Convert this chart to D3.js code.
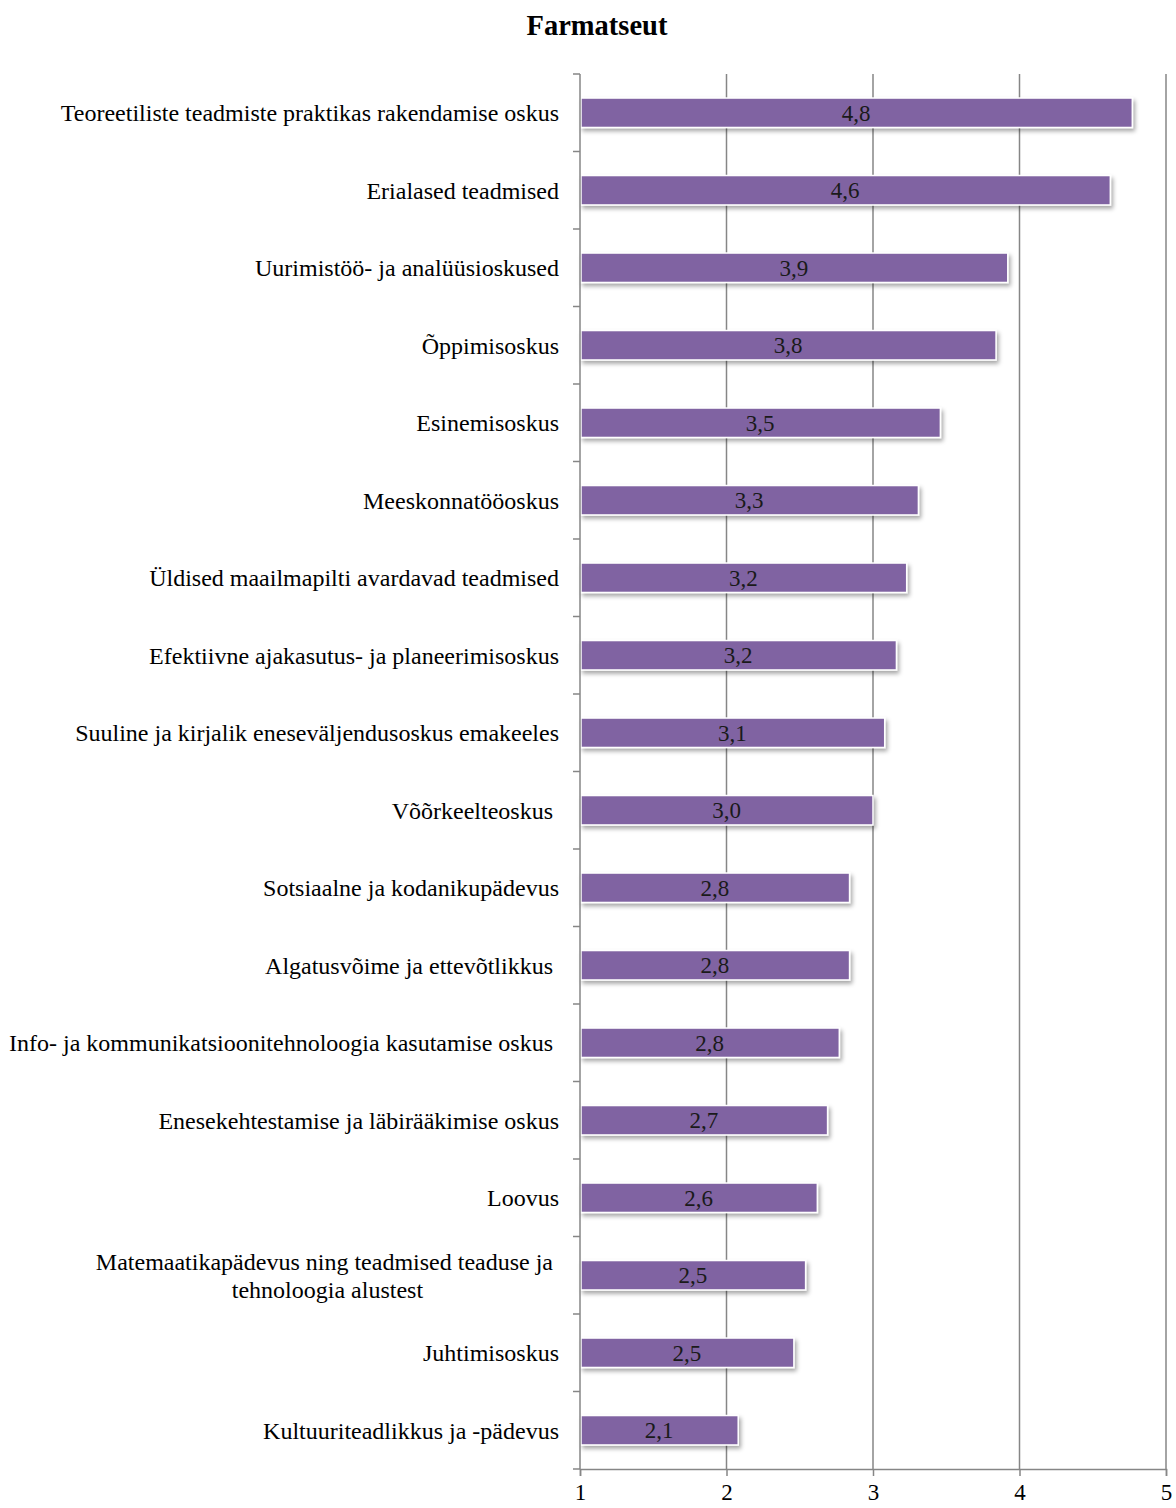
<!DOCTYPE html>
<html><head><meta charset="utf-8">
<script src="https://cdn.jsdelivr.net/npm/d3@7"></script>
<style>body{margin:0;background:#fff}svg{display:block}</style>
</head><body>
<svg id="c" width="1176" height="1508"></svg>
<script>
const title = "Farmatseut";
const categories = [
  "Teoreetiliste teadmiste praktikas rakendamise oskus",
  "Erialased teadmised",
  "Uurimistöö- ja analüüsioskused",
  "Õppimisoskus",
  "Esinemisoskus",
  "Meeskonnatööoskus",
  "Üldised maailmapilti avardavad teadmised",
  "Efektiivne ajakasutus- ja planeerimisoskus",
  "Suuline ja kirjalik eneseväljendusoskus emakeeles",
  "Võõrkeelteoskus\u00a0",
  "Sotsiaalne ja kodanikupädevus",
  "Algatusvõime ja ettevõtlikkus\u00a0",
  "Info- ja kommunikatsioonitehnoloogia kasutamise oskus\u00a0",
  "Enesekehtestamise ja läbirääkimise oskus",
  "Loovus",
  "Matemaatikapädevus ning teadmised teaduse ja\u00a0|tehnoloogia alustest",
  "Juhtimisoskus",
  "Kultuuriteadlikkus ja -pädevus"
];
const values = [4.77, 4.62, 3.92, 3.84, 3.46, 3.31, 3.23, 3.16, 3.08, 3.0, 2.84, 2.84, 2.77, 2.69, 2.62, 2.54, 2.46, 2.08];
const xTicks = [1, 2, 3, 4, 5];

const svg = d3.select("#c");
const font = "'Liberation Serif','Times New Roman',serif";
const m = {left: 580, right: 1166, top: 74, bottom: 1469};

const x = d3.scaleLinear().domain([1, 5]).range([m.left, m.right]);
const y = d3.scaleBand().domain(d3.range(categories.length)).range([m.top, m.bottom]).paddingInner(0.62).paddingOuter(0.31);
const band = d3.scaleBand().domain(d3.range(categories.length)).range([m.top, m.bottom]);

const defs = svg.append("defs");
const f = defs.append("filter").attr("id", "sh").attr("x", "-5%").attr("y", "-30%").attr("width", "115%").attr("height", "180%");
f.append("feDropShadow").attr("dx", 2).attr("dy", 3).attr("stdDeviation", 2).attr("flood-color", "#000").attr("flood-opacity", 0.35);

svg.append("text").attr("x", 597).attr("y", 35).attr("text-anchor", "middle")
  .attr("font-family", font).attr("font-weight", "bold").attr("font-size", 28.5).text(title);

// gridlines
svg.append("g").selectAll("line").data(xTicks.slice(1)).join("line")
  .attr("x1", d => x(d)).attr("x2", d => x(d)).attr("y1", m.top).attr("y2", m.bottom)
  .attr("stroke", "#868686").attr("stroke-width", 1.5);

// bars
svg.append("g").selectAll("rect").data(values).join("rect")
  .attr("x", x(1) + 1).attr("y", (d, i) => y(i)).attr("width", d => x(d) - x(1) - 1).attr("height", y.bandwidth())
  .attr("fill", "#8064A2").attr("stroke", "#fff").attr("stroke-width", 1.5).attr("filter", "url(#sh)");

// value labels
svg.append("g").selectAll("text").data(values).join("text")
  .attr("x", d => (x(1) + x(d)) / 2).attr("y", (d, i) => y(i) + y.bandwidth() / 2).attr("dy", "0.35em")
  .attr("text-anchor", "middle").attr("font-family", font).attr("font-size", 23).attr("fill", "#1a1a1a")
  .text(d => d3.format(".1f")(d).replace(".", ","));

// x axis
const xa = svg.append("g").attr("transform", `translate(0,${m.bottom})`)
  .call(d3.axisBottom(x).tickValues(xTicks).tickSize(7).tickFormat(d => d));
xa.select(".domain").attr("stroke", "#868686").attr("stroke-width", 1.5);
xa.selectAll(".tick line").attr("stroke", "#868686").attr("stroke-width", 1.5);
xa.selectAll(".tick text").attr("font-family", font).attr("font-size", 23).attr("fill", "#000")
  .attr("y", 31).attr("dy", 0);

// y axis line + ticks at band boundaries
svg.append("line").attr("x1", m.left).attr("x2", m.left).attr("y1", m.top).attr("y2", m.bottom)
  .attr("stroke", "#868686").attr("stroke-width", 1.5);
const bounds = d3.range(categories.length + 1).map(i => m.top + i * band.step());
svg.append("g").selectAll("line").data(bounds).join("line")
  .attr("x1", m.left - 7).attr("x2", m.left).attr("y1", d => d).attr("y2", d => d)
  .attr("stroke", "#868686").attr("stroke-width", 1.5);

// category labels
const lg = svg.append("g");
const labelX = 559;
categories.forEach((c, i) => {
  const lines = c.split("|");
  const cy = band(i) + band.step() / 2;
  const t = lg.append("text").attr("font-family", font).attr("font-size", 24).attr("fill", "#000")
    .style("white-space", "pre");
  if (lines.length === 1) {
    t.attr("x", labelX).attr("y", cy).attr("dy", "0.35em").attr("text-anchor", "end").text(c);
  } else {
    const lh = 28;
    lines.forEach((l, k) => {
      t.append("tspan").attr("y", cy + (k - (lines.length - 1) / 2) * lh).attr("dy", "0.35em").text(l);
    });
    const ts = t.selectAll("tspan").nodes();
    const w = d3.max(ts, n => n.getComputedTextLength());
    t.attr("text-anchor", "middle");
    t.selectAll("tspan").attr("x", labelX - w / 2);
  }
});
</script>
</body></html>
